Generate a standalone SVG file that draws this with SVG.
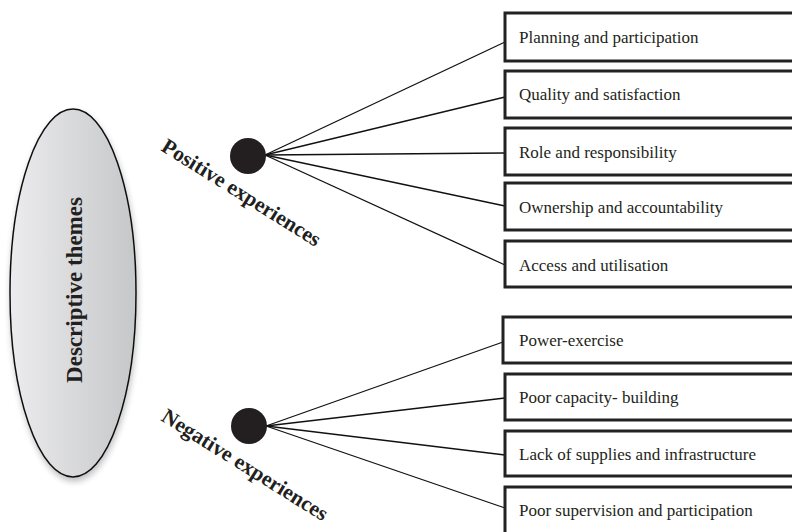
<svg xmlns="http://www.w3.org/2000/svg" width="792" height="532" viewBox="0 0 792 532">
<defs>
<linearGradient id="eg" x1="0" y1="0" x2="1" y2="0">
<stop offset="0" stop-color="#ececee"/>
<stop offset="1" stop-color="#c6c7c9"/>
</linearGradient>
<filter id="sh" x="-20%" y="-10%" width="140%" height="130%">
<feGaussianBlur in="SourceAlpha" stdDeviation="3"/>
<feOffset dx="1" dy="4" result="b"/>
<feComponentTransfer><feFuncA type="linear" slope="0.25"/></feComponentTransfer>
<feMerge><feMergeNode/><feMergeNode in="SourceGraphic"/></feMerge>
</filter>
</defs>
<style>
.box{fill:#fff;stroke:#222;stroke-width:3}
.bt{font-family:"Liberation Serif",serif;font-size:17px;fill:#231f20}
.lbl{font-family:"Liberation Serif",serif;font-size:21.5px;font-weight:bold;fill:#231f20}
.con{stroke:#111;stroke-width:1.3;fill:none}
.dot{fill:#231f20}
</style>
<rect width="792" height="532" fill="#fff"/>
<g id="theme">
<ellipse cx="73" cy="293" rx="63" ry="184" fill="url(#eg)" stroke="#111" stroke-width="1.5" filter="url(#sh)"/>
<text class="lbl" style="font-size:23px" transform="translate(82,290) rotate(-90)" text-anchor="middle">Descriptive themes</text>
</g>
<g id="connectors">
<line class="con" x1="265" y1="155" x2="505" y2="42"/>
<line class="con" x1="265" y1="155" x2="505" y2="97"/>
<line class="con" x1="265" y1="155" x2="505" y2="153"/>
<line class="con" x1="265" y1="155" x2="505" y2="206"/>
<line class="con" x1="265" y1="155" x2="505" y2="265"/>
<line class="con" x1="266" y1="426" x2="503" y2="342"/>
<line class="con" x1="266" y1="426" x2="505" y2="398"/>
<line class="con" x1="266" y1="426" x2="505" y2="455"/>
<line class="con" x1="266" y1="426" x2="505" y2="508"/>
</g>
<g id="positive">
<circle class="dot" cx="248" cy="156" r="18"/>
<text class="lbl" transform="translate(160,150) rotate(32)">Positive experiences</text>
</g>
<g id="negative">
<circle class="dot" cx="249" cy="426" r="18"/>
<text class="lbl" transform="translate(160,420) rotate(32)">Negative experiences</text>
</g>
<g id="p1"><rect class="box" x="505" y="13" width="300" height="48"/><text class="bt" x="519" y="43">Planning and participation</text></g>
<g id="p2"><rect class="box" x="505" y="71" width="300" height="47"/><text class="bt" x="519" y="100">Quality and satisfaction</text></g>
<g id="p3"><rect class="box" x="505" y="128" width="300" height="47"/><text class="bt" x="519" y="158">Role and responsibility</text></g>
<g id="p4"><rect class="box" x="505" y="183" width="300" height="47"/><text class="bt" x="519" y="213">Ownership and accountability</text></g>
<g id="p5"><rect class="box" x="505" y="241" width="300" height="46"/><text class="bt" x="519" y="271">Access and utilisation</text></g>
<g id="n1"><rect class="box" x="503" y="317" width="300" height="46"/><text class="bt" x="519" y="346">Power-exercise</text></g>
<g id="n2"><rect class="box" x="505" y="374" width="300" height="46"/><text class="bt" x="519" y="403">Poor capacity- building</text></g>
<g id="n3"><rect class="box" x="505" y="431" width="300" height="45"/><text class="bt" x="519" y="460">Lack of supplies and infrastructure</text></g>
<g id="n4"><rect class="box" x="505" y="487" width="300" height="60"/><text class="bt" x="519" y="516">Poor supervision and participation</text></g>
</svg>
